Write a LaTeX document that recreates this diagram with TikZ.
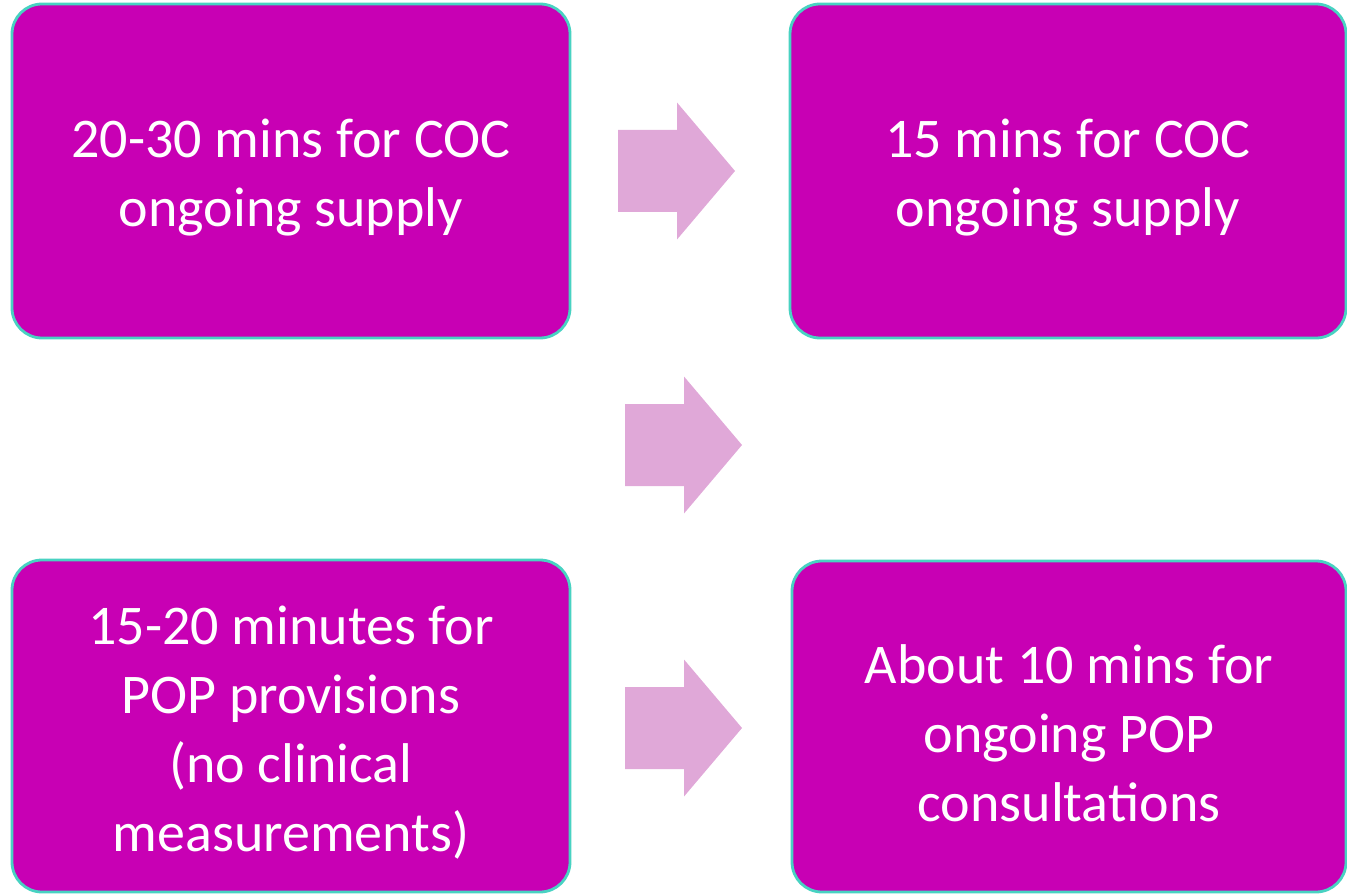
\documentclass[tikz,border=0pt]{standalone}
\usepackage{fontspec}
\setmainfont{Carlito}
\usetikzlibrary{positioning}

\definecolor{boxfill}{HTML}{C800B4}
\definecolor{boxline}{HTML}{48D2C2}
\definecolor{arrowfill}{HTML}{E0A8D8}

% block arrow: tail x, middle y (in px units)
\newcommand{\blockarrow}[2]{%
  \fill[arrowfill] (#1,#2-41) -- ++(59,0) -- ++(0,-27.5) -- ++(58,68.5)
    -- ++(-58,68.5) -- ++(0,-27.5) -- ++(-59,0) -- cycle;}

\begin{document}
\begin{tikzpicture}[x=0.5pt, y=-0.5pt,
    timebox/.style={draw=boxline, fill=boxfill, line width=1.4pt,
      rounded corners=15pt, inner sep=0pt},
    boxtext/.style={text=white, align=center, inner sep=0pt,
      font=\fontsize{28}{34.5}\selectfont}
  ]
    \useasboundingbox (0,0) rectangle (1347,893);

    % boxes
    \node[timebox, minimum width=279pt, minimum height=167pt] (coc) at (291,171) {};
    \node[timebox, minimum width=278pt, minimum height=167pt] (cocnew) at (1068,171) {};
    \node[timebox, minimum width=279pt, minimum height=166pt] (pop) at (291,726) {};
    \node[timebox, minimum width=277pt, minimum height=165.5pt] (popnew) at (1069,726.5) {};

    % texts, a little below the middle
    \node[boxtext] (coctext) at ([yshift=-3.5pt]coc.center)
      {20-30 mins for COC\\ongoing supply};
    \node[boxtext] (cocnewtext) at ([yshift=-3.5pt]cocnew.center)
      {15 mins for COC\\ongoing supply};
    \node[boxtext] (poptext) at ([yshift=-3.5pt]pop.center)
      {15-20 minutes for\\POP provisions\\(no clinical\\measurements)};
    \node[boxtext] (popnewtext) at ([yshift=-3.5pt]popnew.center)
      {About 10 mins for\\ongoing POP\\consultations};

    % arrows
    \blockarrow{618}{171}
    \blockarrow{625}{445}
    \blockarrow{625}{728}
  \end{tikzpicture}
\end{document}
